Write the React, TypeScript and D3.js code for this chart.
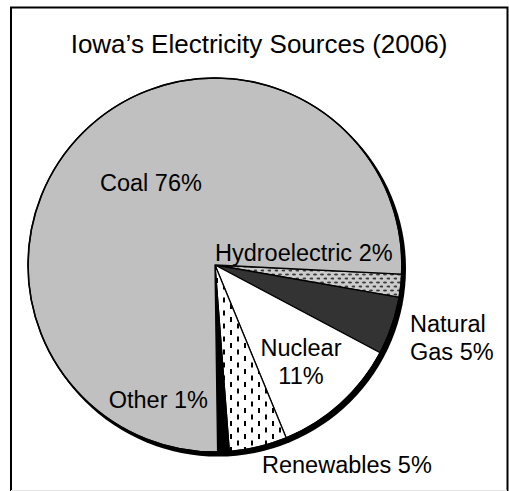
import React from "react";
import * as d3 from "d3";

const categories = ["Hydroelectric", "Natural Gas", "Nuclear", "Renewables", "Other", "Coal"];
const values = [2, 5, 11, 5, 1, 76];
const title = "Iowa\u2019s Electricity Sources (2006)";

const W = 509;
const H = 491;
const cx = 215;
const cy = 265;
const R = 187;
const START = (92.8 * Math.PI) / 180;

const fills: Record<string, string> = {
  Hydroelectric: "url(#dots)",
  "Natural Gas": "#333333",
  Nuclear: "#ffffff",
  Renewables: "url(#dashes)",
  Other: "#000000",
  Coal: "#c0c0c0",
};

type Lab = { lines: string[]; x: number; y: number; anchor: string };
const labels: Lab[] = [
  { lines: ["Coal 76%"], x: 100, y: 191, anchor: "start" },
  { lines: ["Hydroelectric 2%"], x: 215, y: 261, anchor: "start" },
  { lines: ["Natural", "Gas 5%"], x: 410, y: 332, anchor: "start" },
  { lines: ["Nuclear", "11%"], x: 301, y: 356, anchor: "middle" },
  { lines: ["Other 1%"], x: 208, y: 408, anchor: "end" },
  { lines: ["Renewables 5%"], x: 262, y: 473, anchor: "start" },
];

export default function App() {
  const pie = d3
    .pie<number>()
    .sort(null)
    .startAngle(START)
    .endAngle(START + 2 * Math.PI);
  const arcs = pie(values);
  const arc = d3.arc<d3.PieArcDatum<number>>().innerRadius(0).outerRadius(R);
  const font = "'Liberation Sans', Arial, sans-serif";

  return (
    <svg
      width={W}
      height={H}
      style={{ position: "absolute", left: 0, top: 0, background: "#fff" }}
    >
      <defs>
        <pattern id="dots" width={7} height={8} patternUnits="userSpaceOnUse">
          <rect width={7} height={8} fill="#cccccc" />
          <ellipse cx={2} cy={1.5} rx={2} ry={1.1} fill="#3a3a3a" />
          <ellipse cx={5.5} cy={5.5} rx={2} ry={1.1} fill="#3a3a3a" />
        </pattern>
        <pattern id="dashes" width={14} height={13} patternUnits="userSpaceOnUse">
          <rect width={14} height={13} fill="#ffffff" />
          <rect x={1} y={0} width={2} height={5} fill="#000" />
          <rect x={8} y={6.5} width={2} height={5} fill="#000" />
        </pattern>
      </defs>
      <rect x={0} y={0} width={W} height={H} fill="#fff" />
      <path
        d={`M11,${H} L11,7.5 L507.5,7.5 L507.5,${H}`}
        fill="none"
        stroke="#000"
        strokeWidth={2}
      />
      <line x1={11} x2={507} y1={490.5} y2={490.5} stroke="#e6e6e6" strokeWidth={1} />
      <text
        x={259}
        y={53}
        textAnchor="middle"
        fontFamily={font}
        fontSize={26}
        fill="#000"
      >
        {title}
      </text>
      <circle cx={cx + 3} cy={cy + 3.5} r={R + 1} fill="#000" />
      <g transform={`translate(${cx},${cy})`}>
        {arcs.map((a, i) => (
          <path
            key={categories[i]}
            d={arc(a) || ""}
            fill={fills[categories[i]]}
            stroke="#000"
            strokeWidth={1.3}
            strokeLinejoin="round"
          />
        ))}
        <circle r={R} fill="none" stroke="#000" strokeWidth={1.6} />
      </g>
      {labels.map((l, i) => (
        <text
          key={i}
          x={l.x}
          y={l.y}
          textAnchor={l.anchor}
          fontFamily={font}
          fontSize={23.5}
          fill="#000"
        >
          {l.lines.map((ln, j) => (
            <tspan key={j} x={l.x} dy={j === 0 ? 0 : 28}>
              {ln}
            </tspan>
          ))}
        </text>
      ))}
    </svg>
  );
}
